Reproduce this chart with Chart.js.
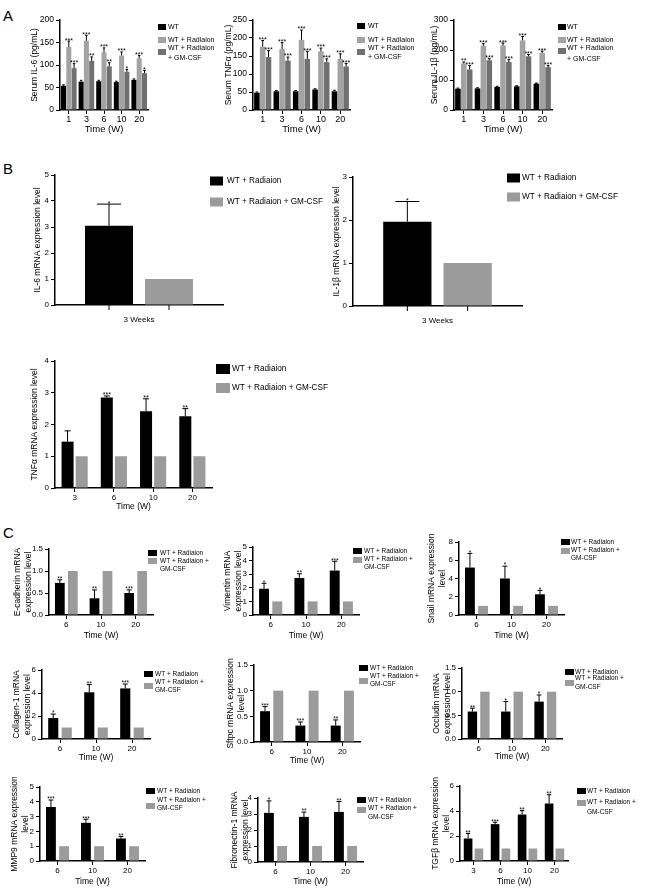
<!DOCTYPE html>
<html><head><meta charset="utf-8">
<script src="https://cdn.jsdelivr.net/npm/chart.js@4.4.1/dist/chart.umd.min.js"></script>
<style>
html,body{margin:0;padding:0;background:#fff;}
body{width:645px;height:889px;position:relative;overflow:hidden;font-family:"Liberation Sans",Arial,Helvetica,sans-serif;}
canvas{position:absolute;}
.lab{position:absolute;font-size:15px;line-height:15px;color:#000;}
</style></head><body>
<div class="lab" style="left:3px;top:8px">A</div>
<div class="lab" style="left:3px;top:161px">B</div>
<div class="lab" style="left:3px;top:525px">C</div>
<script>
// ---------------- DATA ----------------
const seriesNames = ['WT', 'WT + Radiaion', 'WT + Radiaion + GM-CSF'];

// Panel A (serum cytokines, pg/mL)
const weeksA = ['1', '3', '6', '10', '20'];
const il6WT = [54, 63, 64, 62, 67];
const il6WTErr = [56, 66, 66, 64, 69];
const il6Rad = [140, 154, 128, 121, 115];
const il6RadErr = [153, 166, 138, 129, 121];
const il6RadStars = ['***', '***', '***', '***', '***'];
const il6GM = [93, 109, 97, 85, 82];
const il6GMErr = [103, 118, 105, 90, 88];
const il6GMStars = ['***', '**', '**', '*', '*'];

const tnfWT = [48, 52, 52, 57, 52];
const tnfWTErr = [50, 54, 54, 59, 55];
const tnfRad = [176, 169, 195, 163, 142];
const tnfRadErr = [193, 187, 222, 172, 156];
const tnfRadStars = ['***', '***', '***', '***', '***'];
const tnfGM = [147, 137, 142, 133, 121];
const tnfGMErr = [165, 147, 163, 142, 129];
const tnfGMStars = ['***', '***', '***', '***', '***'];

const il1WT = [71, 72, 77, 79, 88];
const il1WTErr = [73, 74, 79, 81, 90];
const il1Rad = [155, 214, 215, 232, 190];
const il1RadErr = [160, 221, 223, 245, 196];
const il1RadStars = ['**', '***', '***', '***', '***'];
const il1GM = [135, 166, 160, 179, 143];
const il1GMErr = [148, 171, 168, 185, 148];
const il1GMStars = ['***', '***', '***', '***', '***'];

// Panel B (mRNA expression)
const weeksB = ['3 Weeks'];
const il6mRad = [3.05];
const il6mRadErr = [3.88];
const il6mRadStars = ['*'];
const il6mGM = [1.0];
const il1mRad = [1.96];
const il1mRadErr = [2.43];
const il1mRadStars = ['*'];
const il1mGM = [1.0];
const weeksB3 = ['3', '6', '10', '20'];
const tnfmRad = [1.46, 2.85, 2.42, 2.26];
const tnfmRadErr = [1.8, 2.9, 2.81, 2.5];
const tnfmRadStars = ['', '***', '**', '**'];
const tnfmGM = [1, 1, 1, 1];

// Panel C (mRNA expression)
const weeksC = ['6', '10', '20'];
const weeksC9 = ['3', '6', '10', '20'];
const gmC = [1, 1, 1];
const gmC9 = [1, 1, 1, 1];
const ecadRad = [0.73, 0.38, 0.5];
const ecadErr = [0.8, 0.57, 0.57];
const ecadStars = ['**', '**', '***'];
const vimRad = [1.93, 2.72, 3.27];
const vimErr = [2.33, 3.03, 3.95];
const vimStars = ['*', '**', '***'];
const snailRad = [5.2, 4.0, 2.27];
const snailErr = [6.75, 5.35, 2.7];
const snailStars = ['*', '*', '*'];
const colRad = [1.82, 4.06, 4.4];
const colErr = [2.17, 4.73, 4.78];
const colStars = ['*', '**', '***'];
const sftpcRad = [0.6, 0.32, 0.32];
const sftpcErr = [0.69, 0.39, 0.43];
const sftpcStars = ['***', '***', '**'];
const occRad = [0.58, 0.58, 0.79];
const occErr = [0.65, 0.79, 0.93];
const occStars = ['**', '*', '*'];
const mmpRad = [3.65, 2.58, 1.52];
const mmpErr = [4.12, 2.82, 1.66];
const mmpStars = ['***', '***', '**'];
const fnRad = [3.07, 2.82, 3.13];
const fnErr = [3.82, 3.12, 3.78];
const fnStars = ['*', '**', '**'];
const tgfRad = [1.8, 2.95, 3.72, 4.6];
const tgfErr = [2.2, 3.1, 4.03, 5.3];
const tgfStars = ['**', '***', '**', '**'];

// ---------------- RENDERING ----------------
const FONT = '"Liberation Sans", Arial, Helvetica, sans-serif';
Chart.defaults.font.family = FONT;
Chart.defaults.color = '#000';
const BLACK = '#000000', LGRAY = '#a3a3a3', DGRAY = '#707070', GRAY = '#9b9b9b';

function wrapLabel(label, n, mode) {
  if (n === 1) return [label];
  const i = label.lastIndexOf(' + ');
  return mode === 'A' ? [label.slice(0, i), label.slice(i + 1)] : [label.slice(0, i + 2), label.slice(i + 3)];
}

const errPlugin = {
  id: 'errStars',
  afterDatasetsDraw(chart, args, o) {
    const ctx = chart.ctx, ys = chart.scales.y;
    const ss = o.starSize || 7;
    chart.data.datasets.forEach((ds, di) => {
      const meta = chart.getDatasetMeta(di);
      meta.data.forEach((bar, i) => {
        let top = bar.y;
        if (ds.err && ds.err[i] != null) {
          const ye = ys.getPixelForValue(ds.err[i]);
          const hw = bar.width * (o.cap || 0.5) / 2;
          ctx.save(); ctx.strokeStyle = '#000'; ctx.lineWidth = o.lw || 1;
          ctx.beginPath(); ctx.moveTo(bar.x, bar.y); ctx.lineTo(bar.x, ye);
          ctx.moveTo(bar.x - hw, ye); ctx.lineTo(bar.x + hw, ye); ctx.stroke(); ctx.restore();
          top = ye;
        }
        if (ds.stars && ds.stars[i]) {
          ctx.save(); ctx.fillStyle = '#000'; ctx.font = ss + 'px ' + FONT;
          ctx.textAlign = 'center'; ctx.textBaseline = 'alphabetic';
          ctx.fillText(ds.stars[i], bar.x, top + ss * 0.2);
          ctx.restore();
        }
        if (o.barTicks) {
          const zy = chart.chartArea.bottom;
          ctx.save(); ctx.strokeStyle = '#000'; ctx.lineWidth = 1;
          ctx.beginPath(); ctx.moveTo(bar.x, zy); ctx.lineTo(bar.x, zy + 5); ctx.stroke(); ctx.restore();
        }
      });
    });
  }
};

const legendPlugin = {
  id: 'boxLegend',
  afterDraw(chart, args, o) {
    if (!o.items) return;
    const ctx = chart.ctx;
    ctx.save();
    ctx.font = o.size + 'px ' + FONT; ctx.textBaseline = 'middle'; ctx.textAlign = 'left';
    o.items.forEach((it, k) => {
      const ds = chart.data.datasets[k];
      ctx.fillStyle = ds.backgroundColor;
      ctx.fillRect(o.bx - o.ox, it.by - o.oy - o.bh / 2, o.bw, o.bh);
      ctx.fillStyle = '#000';
      const lines = wrapLabel(ds.label, it.ly.length, o.wrap);
      lines.forEach((t, j) => ctx.fillText(t, o.tx - o.ox, it.ly[j] - o.oy));
    });
    ctx.restore();
  }
};

function makeChart(c) {
  const g = c.g;
  const tlh = c.f.title * 1.2;
  const left = Math.round(g.tx - tlh / 2), top = g.ty - 10;
  const by = c.xTitle ? Math.round(g.xt + c.f.xtitle * 0.6) : g.zy + 26;
  const W = g.rx - left, H = by - top;
  const cv = document.createElement('canvas');
  cv.width = W; cv.height = H;
  cv.style.left = left + 'px'; cv.style.top = top + 'px';
  cv.style.width = W + 'px'; cv.style.height = H + 'px';
  document.body.appendChild(cv);
  const datasets = c.ds.map(d => ({
    label: d.label, data: d.data, err: d.err, stars: d.stars,
    backgroundColor: d.color, borderWidth: 0,
    categoryPercentage: c.bar[0], barPercentage: c.bar[1]
  }));
  new Chart(cv, {
    type: 'bar',
    data: { labels: c.cats, datasets },
    options: {
      responsive: false, animation: false, devicePixelRatio: 1,
      layout: { padding: { left: 0, top: g.ty - top, right: g.rx - g.ex, bottom: 0 } },
      plugins: {
        legend: { display: false }, tooltip: { enabled: false },
        errStars: { starSize: c.star || 6.5, cap: c.cap || 0.5, lw: 1, barTicks: !!c.barTicks },
        boxLegend: Object.assign({}, c.leg, { ox: left, oy: top })
      },
      scales: {
        x: {
          grid: { display: true, drawOnChartArea: false, drawTicks: !c.barTicks, tickLength: 4, color: '#000', offset: false },
          border: { display: true, color: '#000', width: 1.5 },
          ticks: { font: { size: c.f.xtick || c.f.tick }, padding: c.xpad, maxRotation: 0, autoSkip: false, color: '#000' },
          title: c.xTitle ? { display: true, text: c.xTitle, font: { size: c.f.xtitle }, padding: 0, color: '#000' } : { display: false },
          afterFit: s => { s.height = by - g.zy; }
        },
        y: {
          min: 0, max: c.y.max,
          ticks: { stepSize: c.y.step, font: { size: c.f.tick }, padding: 2, color: '#000',
            callback: v => c.y.dec ? Number(v).toFixed(c.y.dec) : v },
          grid: { drawOnChartArea: false, tickLength: 4, color: '#000' },
          border: { display: true, color: '#000', width: 1.5 },
          title: { display: true, text: c.yTitle, font: { size: c.f.title }, padding: 0, color: '#000' },
          afterFit: s => { s.width = g.ax - left; }
        }
      }
    },
    plugins: [errPlugin, legendPlugin]
  });
}

const fA = { tick: 8.5, xtick: 9, title: 8.5, xtitle: 9.5 };
const legA = (bx, tx, ys) => ({ bx, bw: 8, bh: 6, tx, size: 7, wrap: 'A',
  items: [{ by: ys[0], ly: [ys[0]] }, { by: ys[1], ly: [ys[1]] }, { by: ys[2], ly: [ys[3], ys[4]] }] });
const triple = (wt, wtE, rad, radE, radS, gm, gmE, gmS) => [
  { label: seriesNames[0], data: wt, err: wtE, color: BLACK },
  { label: seriesNames[1], data: rad, err: radE, stars: radS, color: LGRAY },
  { label: seriesNames[2], data: gm, err: gmE, stars: gmS, color: DGRAY }];
const pair = (rad, radE, radS, gm) => [
  { label: seriesNames[1], data: rad, err: radE, stars: radS, color: BLACK },
  { label: seriesNames[2], data: gm, color: GRAY }];

// Panel A
makeChart({ cats: weeksA, ds: triple(il6WT, il6WTErr, il6Rad, il6RadErr, il6RadStars, il6GM, il6GMErr, il6GMStars),
  y: { max: 200, step: 50 }, yTitle: 'Serum IL-6 (pg/mL)', xTitle: 'Time (W)', f: fA, bar: [0.9, 0.95], xpad: 0, star: 7,
  g: { tx: 35, ax: 60, ty: 20, zy: 110, ex: 148, xt: 129, rx: 215 }, leg: legA(158, 168, [27, 40, 52, 48, 58]) });
makeChart({ cats: weeksA, ds: triple(tnfWT, tnfWTErr, tnfRad, tnfRadErr, tnfRadStars, tnfGM, tnfGMErr, tnfGMStars),
  y: { max: 250, step: 50 }, yTitle: 'Serum TNFα (pg/mL)', xTitle: 'Time (W)', f: fA, bar: [0.9, 0.95], xpad: 0, star: 7,
  g: { tx: 229, ax: 253, ty: 20, zy: 110, ex: 350, xt: 129, rx: 430 }, leg: legA(357, 368, [26, 40, 52, 48, 57]) });
makeChart({ cats: weeksA, ds: triple(il1WT, il1WTErr, il1Rad, il1RadErr, il1RadStars, il1GM, il1GMErr, il1GMStars),
  y: { max: 300, step: 100 }, yTitle: 'Serum IL-1β (pg/mL)', xTitle: 'Time (W)', f: fA, bar: [0.9, 0.95], xpad: 0, star: 7,
  g: { tx: 435, ax: 454, ty: 20, zy: 110, ex: 552, xt: 129, rx: 645 }, leg: legA(558, 567, [27, 40, 51, 48, 59]) });

// Panel B
const fB = { tick: 8, xtick: 8, title: 8.5, xtitle: 8.5 };
const legB = (bx, tx, y1, y2, bw, bh) => ({ bx, bw, bh, tx, size: 8.2, wrap: 'C',
  items: [{ by: y1, ly: [y1] }, { by: y2, ly: [y2] }] });
makeChart({ cats: weeksB, ds: pair(il6mRad, il6mRadErr, il6mRadStars, il6mGM),
  y: { max: 5, step: 1 }, yTitle: 'IL-6 mRNA expression level', f: fB, bar: [0.714, 0.8], xpad: 10, barTicks: true, star: 7,
  g: { tx: 38, ax: 55, ty: 175, zy: 305, ex: 223, rx: 340 }, leg: legB(210, 227, 181, 202, 13, 9) });
makeChart({ cats: weeksB, ds: pair(il1mRad, il1mRadErr, il1mRadStars, il1mGM),
  y: { max: 3, step: 1 }, yTitle: 'IL-1β mRNA expression level', f: fB, bar: [0.714, 0.8], xpad: 10, barTicks: true, star: 7,
  g: { tx: 337, ax: 353, ty: 177, zy: 306, ex: 522, rx: 645 }, leg: legB(507, 522, 178, 197, 13, 9) });
makeChart({ cats: weeksB3, ds: pair(tnfmRad, tnfmRadErr, tnfmRadStars, tnfmGM),
  y: { max: 4, step: 1 }, yTitle: 'TNFα mRNA expression level', xTitle: 'Time (W)', f: fB, bar: [0.72, 0.85], xpad: 1, star: 7,
  g: { tx: 35, ax: 55, ty: 361, zy: 488, ex: 212, xt: 507, rx: 340 }, leg: legB(216, 232, 369, 388, 14, 10) });

// Panel C
const fC = { tick: 8, title: 8.5, xtitle: 8.5 };
const legC = (bx, tx, yb, yg, l1, l2, l3) => ({ bx, bw: 9, bh: 6, tx, size: 6.5, wrap: 'C',
  items: [{ by: yb, ly: [l1] }, { by: yg, ly: [l2, l3] }] });
const barC = [0.75, 0.75];
makeChart({ cats: weeksC, ds: pair(ecadRad, ecadErr, ecadStars, gmC),
  y: { max: 1.5, step: 0.5, dec: 1 }, yTitle: ['E-cadherin mRNA', 'expression level'], xTitle: 'Time (W)', f: fC, bar: barC, xpad: 1,
  g: { tx: 18, ax: 49, ty: 549, zy: 615, ex: 153, xt: 636, rx: 215 }, leg: legC(148, 160, 553, 561, 553, 561, 569) });
makeChart({ cats: weeksC, ds: pair(vimRad, vimErr, vimStars, gmC),
  y: { max: 5, step: 1 }, yTitle: ['Vimentin mRNA', 'expression level'], xTitle: 'Time (W)', f: fC, bar: barC, xpad: 1,
  g: { tx: 228, ax: 253, ty: 547, zy: 615, ex: 359, xt: 636, rx: 430 }, leg: legC(353, 364, 551, 560, 551, 559, 567) });
makeChart({ cats: weeksC, ds: pair(snailRad, snailErr, snailStars, gmC),
  y: { max: 8, step: 2 }, yTitle: ['Snail mRNA expression', 'level'], xTitle: 'Time (W)', f: fC, bar: barC, xpad: 1,
  g: { tx: 432, ax: 459, ty: 542, zy: 615, ex: 564, xt: 636, rx: 645 }, leg: legC(561, 571, 542, 551, 542, 550, 558) });
makeChart({ cats: weeksC, ds: pair(colRad, colErr, colStars, gmC),
  y: { max: 6, step: 2 }, yTitle: ['Collagen-1 mRNA', 'expression level'], xTitle: 'Time (W)', f: fC, bar: barC, xpad: 1,
  g: { tx: 17, ax: 42, ty: 670, zy: 739, ex: 150, xt: 758, rx: 215 }, leg: legC(144, 155, 674, 686, 674, 682, 690) });
makeChart({ cats: weeksC, ds: pair(sftpcRad, sftpcErr, sftpcStars, gmC),
  y: { max: 1.5, step: 0.5, dec: 1 }, yTitle: ['Sftpc mRNA expression', 'level'], xTitle: 'Time (W)', f: fC, bar: barC, xpad: 1,
  g: { tx: 231, ax: 254, ty: 665, zy: 742, ex: 360, xt: 761, rx: 430 }, leg: legC(359, 370, 668, 681, 668, 676, 684) });
makeChart({ cats: weeksC, ds: pair(occRad, occErr, occStars, gmC),
  y: { max: 1.5, step: 0.5, dec: 1 }, yTitle: ['Occludin mRNA', 'expression level'], xTitle: 'Time (W)', f: fC, bar: barC, xpad: 1,
  g: { tx: 437, ax: 462, ty: 668, zy: 739, ex: 562, xt: 757, rx: 645 }, leg: legC(565, 575, 672, 683, 672, 678, 687) });
makeChart({ cats: weeksC, ds: pair(mmpRad, mmpErr, mmpStars, gmC),
  y: { max: 5, step: 1 }, yTitle: ['MMP9 mRNA expression', 'level'], xTitle: 'Time (W)', f: fC, bar: barC, xpad: 1,
  g: { tx: 15, ax: 40, ty: 787, zy: 861, ex: 145, xt: 882, rx: 215 }, leg: legC(146, 157, 791, 806, 791, 800, 808) });
makeChart({ cats: weeksC, ds: pair(fnRad, fnErr, fnStars, gmC),
  y: { max: 4, step: 1 }, yTitle: ['Fibronectin-1 mRNA', 'expression level'], xTitle: 'Time (W)', f: fC, bar: barC, xpad: 1,
  g: { tx: 235, ax: 258, ty: 798, zy: 862, ex: 363, xt: 882, rx: 430 }, leg: legC(357, 368, 800, 810, 800, 808, 817) });
makeChart({ cats: weeksC9, ds: pair(tgfRad, tgfErr, tgfStars, gmC9),
  y: { max: 6, step: 2 }, yTitle: ['TGFβ mRNA expression', 'level'], xTitle: 'Time (W)', f: fC, bar: [0.8, 0.8], xpad: 1,
  g: { tx: 436, ax: 460, ty: 786, zy: 861, ex: 568, xt: 882, rx: 645 }, leg: legC(577, 587, 791, 803, 791, 802, 812) });
</script>
</body></html>
